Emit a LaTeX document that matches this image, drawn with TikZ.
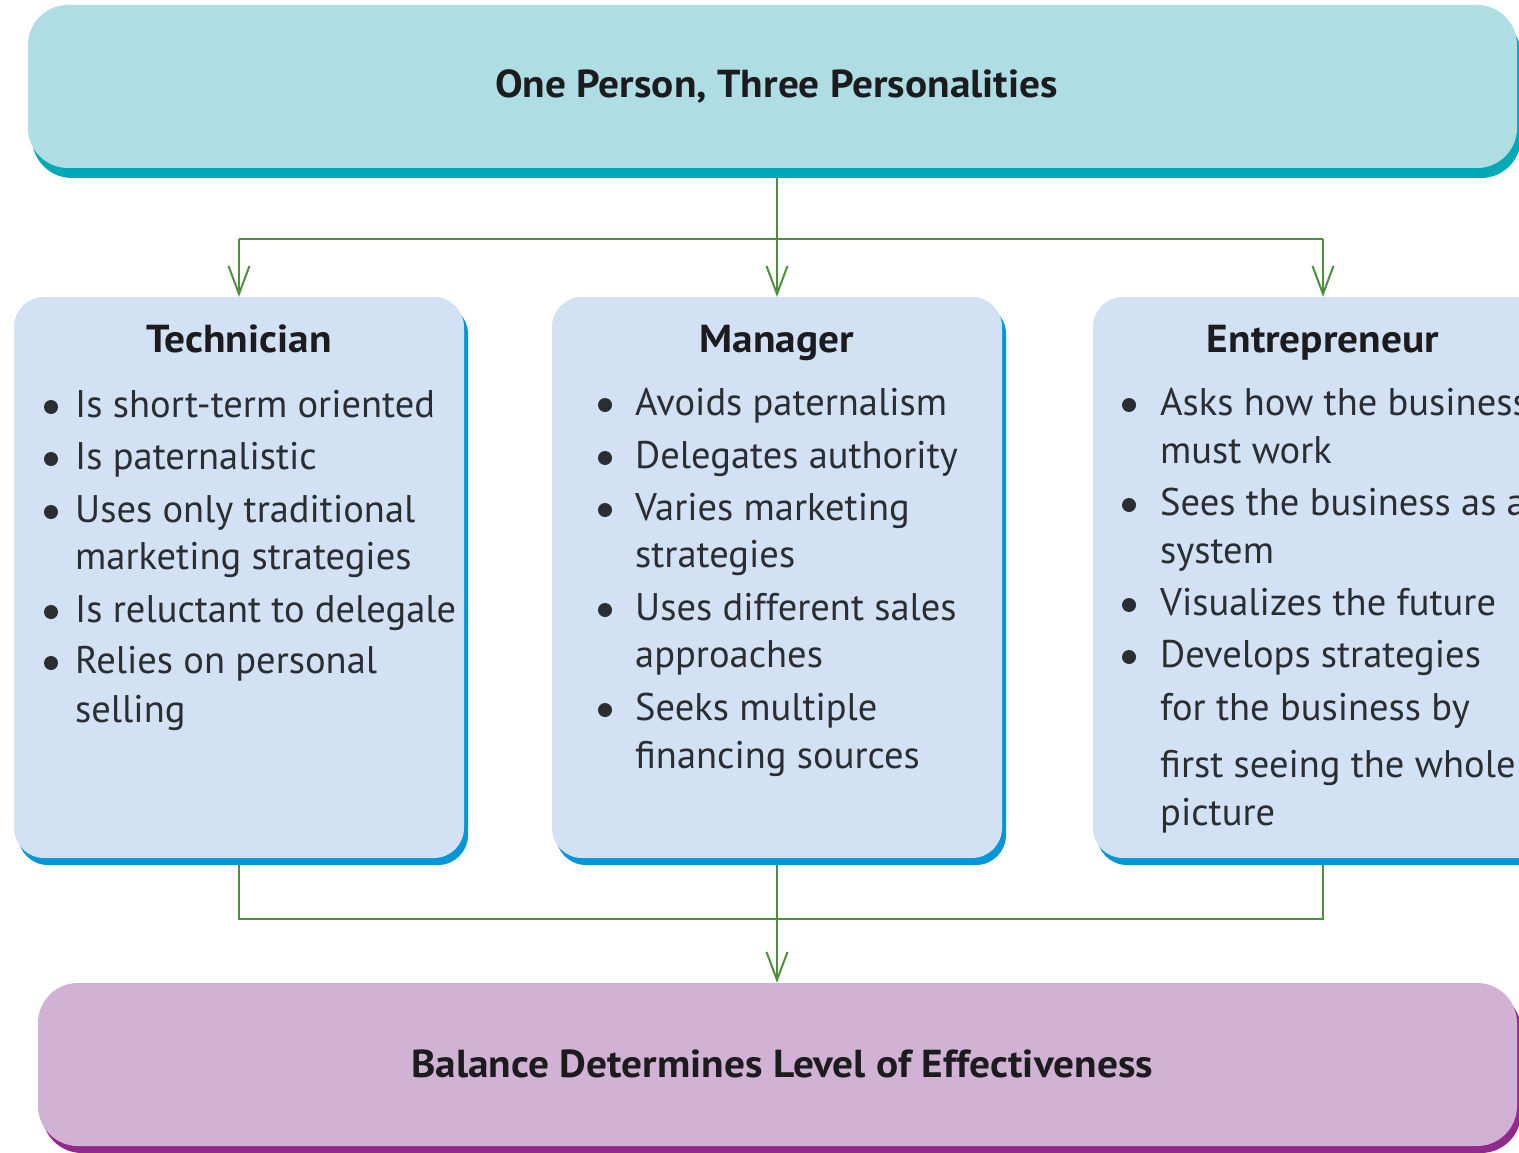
\documentclass[tikz,border=0pt]{standalone}
\usepackage{fontspec}
\setmainfont{PT Sans}
\newfontfamily\headfont{PT Sans}[FakeStretch=1.06]
\usetikzlibrary{arrows.meta,shadows}
\definecolor{topfill}{HTML}{AEDDE3}
\definecolor{topshade}{HTML}{00A9B6}
\definecolor{midfill}{HTML}{D2E1F3}
\definecolor{midshade}{HTML}{0096D8}
\definecolor{botfill}{HTML}{D1B1D4}
\definecolor{botshade}{HTML}{922A8E}
\definecolor{conn}{HTML}{4F8D3F}
\definecolor{ink}{HTML}{2A2D31}
\definecolor{headink}{HTML}{1C1C1E}
\pgfdeclarelayer{background}
\pgfsetlayers{background,main}
\begin{document}
\begin{tikzpicture}[x=1pt,y=-1pt,
  bodytext/.style={anchor=base west,inner sep=0pt,text=ink,font=\fontsize{38.5}{46}\selectfont},
  headtext/.style={anchor=base,inner sep=0pt,text=headink,font=\headfont\bfseries\fontsize{39}{46}\selectfont},
  bigbox/.style={rounded corners=40pt,inner sep=0pt},
  topbox/.style={bigbox,fill=topfill,general shadow={fill=topshade,shadow xshift=4pt,shadow yshift=-10pt}},
  botbox/.style={bigbox,fill=botfill,general shadow={fill=botshade,shadow xshift=4pt,shadow yshift=-7pt}},
  midbox/.style={rounded corners=30pt,inner sep=0pt,fill=midfill,general shadow={fill=midshade,shadow xshift=4pt,shadow yshift=-7pt}},
  connector/.style={draw=conn,line width=2pt},
  tip/.style={-{Straight Barb[length=28pt,width=21pt,line width=2pt]}}
]
\useasboundingbox (0,0) rectangle (1519,1153);
\clip (0,0) rectangle (1519,1153);

% boxes
\node[topbox,minimum width=1489pt,minimum height=163pt] (top) at (772.5,86.5) {};
\node[midbox,minimum width=450pt,minimum height=561pt] (tech) at (239,577.5) {};
\node[midbox,minimum width=450pt,minimum height=561pt] (mgr) at (777,577.5) {};
\node[midbox,minimum width=460pt,minimum height=561pt] (ent) at (1323,577.5) {};
\node[botbox,minimum width=1479pt,minimum height=163pt] (bot) at (777.5,1064.5) {};

% titles
\node[headtext] (toptitle) at (776.5,98) {One Person, Three Personalities};
\node[headtext] (bottitle) at (782,1077) {Balance Determines Level of Effectiveness};
\node[headtext] (techtitle) at (239,352) {Technician};
\node[headtext] (mgrtitle) at (777,352) {Manager};
\node[headtext] (enttitle) at (1323,352) {Entrepreneur};

% technician list
\foreach \y/\b/\t [count=\i] in {
  417/1/Is short-term oriented,
  469/1/Is paternalistic,
  522/1/Uses only traditional,
  569/0/marketing strategies,
  622/1/Is reluctant to delegale,
  673/1/Relies on personal,
  722/0/selling}{
  \node[bodytext] (techline\i) at (75,\y) {\t};
  \ifnum\b=1 \fill[ink] (51,\y-10) circle (7pt); \fi
}
% manager list
\foreach \y/\b/\t [count=\i] in {
  415/1/Avoids paternalism,
  468/1/Delegates authority,
  520/1/Varies marketing,
  567/0/strategies,
  620/1/Uses different sales,
  667/0/approaches,
  720/1/Seeks multiple,
  768/0/financing sources}{
  \node[bodytext] (mgrline\i) at (635,\y) {\t};
  \ifnum\b=1 \fill[ink] (605,\y-10) circle (7pt); \fi
}
% entrepreneur list
\foreach \y/\b/\t [count=\i] in {
  415/1/Asks how the business,
  463/0/must work,
  515/1/Sees the business as a,
  563/0/system,
  615/1/Visualizes the future,
  667/1/Develops strategies,
  720/0/for the business by,
  777/0/first seeing the whole,
  825/0/picture}{
  \node[bodytext] (entline\i) at (1160,\y) {\t};
  \ifnum\b=1 \fill[ink] (1129,\y-10) circle (7pt); \fi
}

% connectors
\coordinate (split) at (777,239);
\coordinate (merge) at (777,919);
\begin{pgfonlayer}{background}
  \fill[white] (0,0) rectangle (1519,1153);
  \draw[connector,tip] (top.south -| mgr.north) -- (mgr.north);
  \draw[connector,tip] (tech.north |- split) -- (tech.north);
  \draw[connector] (tech.north |- split) -- (ent.north |- split);
  \draw[connector,tip] (ent.north |- split) -- (ent.north);
  \draw[connector] (tech.south) -- (tech.south |- merge) -- (ent.south |- merge) -- (ent.south);
  \draw[connector,tip] (mgr.south) -- (mgr.south |- bot.north);
\end{pgfonlayer}
\end{tikzpicture}
\end{document}
